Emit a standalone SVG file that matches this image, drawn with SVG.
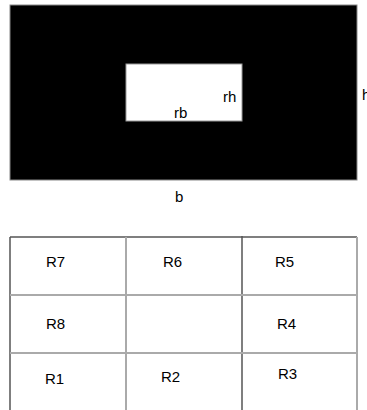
<svg xmlns="http://www.w3.org/2000/svg" width="367" height="410" viewBox="0 0 367 410">
<style>
text{font-family:"Liberation Sans",Arial,sans-serif;font-size:15px;fill:#000}
.dk{stroke:#555;stroke-width:1.5;fill:none}
.lt{stroke:#aaa;stroke-width:2;fill:none}
</style>
<rect width="367" height="410" fill="#fff"/>
<g id="section">
<rect x="10" y="5" width="347" height="175" fill="#000" stroke="#888" stroke-width="1"/>
<rect x="126" y="64" width="116" height="57" fill="#fff" stroke="#999" stroke-width="1"/>
<text x="223" y="102">rh</text>
<text x="174" y="118">rb</text>
<text x="362" y="100">h</text>
<text x="175" y="202">b</text>
</g>
<g id="grid">
<line class="dk" x1="10" y1="237" x2="357" y2="237"/>
<line class="dk" x1="10" y1="237" x2="10" y2="410"/>
<line class="lt" x1="126" y1="237" x2="126" y2="410"/>
<line class="dk" x1="242" y1="236" x2="242" y2="410"/>
<line class="lt" x1="357" y1="237" x2="357" y2="410"/>
<line class="lt" x1="10" y1="295" x2="357" y2="295"/>
<line class="lt" x1="10" y1="353" x2="357" y2="353"/>
</g>
<g id="R7"><text x="46" y="267">R7</text></g>
<g id="R6"><text x="163" y="267">R6</text></g>
<g id="R5"><text x="275" y="267">R5</text></g>
<g id="R8"><text x="46" y="329">R8</text></g>
<g id="R4"><text x="277" y="329">R4</text></g>
<g id="R1"><text x="45" y="384">R1</text></g>
<g id="R2"><text x="161" y="382">R2</text></g>
<g id="R3"><text x="278" y="379">R3</text></g>
</svg>
